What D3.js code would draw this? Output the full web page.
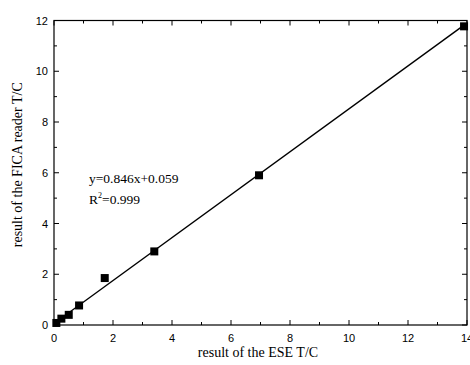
<!DOCTYPE html>
<html>
<head>
<meta charset="utf-8">
<script src="https://cdn.jsdelivr.net/npm/d3@7"></script>
<style>
  body { margin: 0; background: #fff; }
  svg { display: block; }
</style>
</head>
<body>
<svg id="chart" width="470" height="365"></svg>
<script>
// measured values (ESE vs FICA reader)
const eseValues = [0.08, 0.25, 0.5, 0.85, 1.72, 3.4, 6.95, 13.9];
const ficaValues = [0.08, 0.25, 0.4, 0.77, 1.85, 2.9, 5.9, 11.77];
const xTicks = [0, 2, 4, 6, 8, 10, 12, 14];
const yTicks = [0, 2, 4, 6, 8, 10, 12];
const slope = 0.846;
const intercept = 0.059;
const fitLabel = "y=0.846x+0.059";
const r2Label = "=0.999";

const width = 470, height = 365;
const margin = { top: 20.5, right: 3, bottom: 40, left: 54 };

const svg = d3.select("#chart");

const x = d3.scaleLinear().domain([0, 14]).range([margin.left, width - margin.right]);
const y = d3.scaleLinear().domain([0, 12]).range([height - margin.bottom, margin.top]);

const minorX = d3.range(1, 14, 2);
const minorY = d3.range(1, 12, 2);

// frame
svg.append("rect")
  .attr("x", x(0)).attr("y", y(12))
  .attr("width", x(14) - x(0)).attr("height", y(0) - y(12))
  .attr("fill", "none").attr("stroke", "#000").attr("stroke-width", 1.2);

// inward ticks on all sides
function ticks(vals, len, tickClass) {
  const g = svg.append("g").attr("class", tickClass).attr("stroke", "#000").attr("stroke-width", 1);
  vals.x.forEach(v => {
    g.append("line").attr("x1", x(v)).attr("x2", x(v)).attr("y1", y(0)).attr("y2", y(0) - len);
    g.append("line").attr("x1", x(v)).attr("x2", x(v)).attr("y1", y(12)).attr("y2", y(12) + len);
  });
  vals.y.forEach(v => {
    g.append("line").attr("y1", y(v)).attr("y2", y(v)).attr("x1", x(0)).attr("x2", x(0) + len);
    g.append("line").attr("y1", y(v)).attr("y2", y(v)).attr("x1", x(14)).attr("x2", x(14) - len);
  });
}
ticks({ x: xTicks, y: yTicks }, 5, "major");
ticks({ x: minorX, y: minorY }, 3, "minor");

// tick labels
svg.append("g").selectAll("text").data(xTicks).join("text")
  .attr("x", d => x(d)).attr("y", y(0) + 17)
  .attr("text-anchor", "middle")
  .attr("font-family", "Liberation Sans, Arial, sans-serif").attr("font-size", 11)
  .text(d => d);

svg.append("g").selectAll("text").data(yTicks).join("text")
  .attr("x", x(0) - 6).attr("y", d => y(d) + 4)
  .attr("text-anchor", "end")
  .attr("font-family", "Liberation Sans, Arial, sans-serif").attr("font-size", 11)
  .text(d => d);

// axis titles
svg.append("text")
  .attr("x", 258).attr("y", height - 8)
  .attr("text-anchor", "middle")
  .attr("font-family", "Liberation Serif, Times New Roman, serif").attr("font-size", 14)
  .text("result of the ESE T/C");

svg.append("text")
  .attr("transform", `translate(22,${(y(0) + y(12)) / 2 - 8}) rotate(-90)`)
  .attr("text-anchor", "middle")
  .attr("font-family", "Liberation Serif, Times New Roman, serif").attr("font-size", 14)
  .text("result of the FICA reader T/C");

// fit line
const line = d3.line().x(d => x(d)).y(d => y(slope * d + intercept));
svg.append("path")
  .datum([0, d3.max(eseValues)])
  .attr("d", line)
  .attr("fill", "none").attr("stroke", "#000").attr("stroke-width", 1.4);

// points
const pts = eseValues.map((v, i) => ({ x: v, y: ficaValues[i] }));
const s = 8;
svg.append("g").selectAll("rect").data(pts).join("rect")
  .attr("x", d => x(d.x) - s / 2).attr("y", d => y(d.y) - s / 2)
  .attr("width", s).attr("height", s).attr("fill", "#000");

// annotation
const ann = svg.append("g")
  .attr("font-family", "Liberation Serif, Times New Roman, serif").attr("font-size", 13.5);
ann.append("text").attr("x", 89).attr("y", y(5.6)).text(fitLabel);
const r2 = ann.append("text").attr("x", 89).attr("y", y(4.75));
r2.append("tspan").text("R");
r2.append("tspan").attr("dy", -6).attr("font-size", 8).text("2");
r2.append("tspan").attr("dy", 6).text(r2Label);
</script>
</body>
</html>
